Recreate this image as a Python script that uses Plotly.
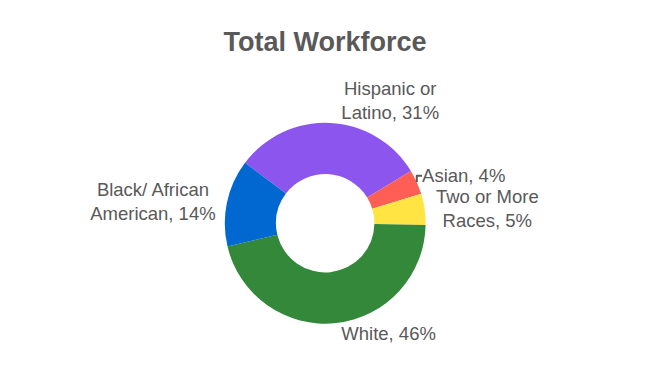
import plotly.graph_objects as go

categories = ["Hispanic or Latino", "Asian", "Two or More Races", "White", "Black/ African American"]
label_text = ["Hispanic or<br>Latino, 31%", "Asian, 4%", "Two or More<br>Races, 5%", "White, 46%", "Black/ African<br>American, 14%"]
values = [31, 4, 5, 46, 14]
colors = ["#8C55EE", "#FF5E54", "#FFE443", "#33883A", "#0068D0"]

fig = go.Figure(go.Pie(
    labels=categories,
    values=values,
    text=label_text,
    textinfo="text",
    textposition="outside",
    hole=0.49,
    sort=False,
    direction="clockwise",
    rotation=-53,
    marker=dict(colors=colors, line=dict(width=0)),
    textfont=dict(family="Liberation Sans, Arial, sans-serif", size=18.5, color="#595959"),
    domain=dict(x=[0.314, 0.662], y=[0.178, 0.701]),
    showlegend=False,
))

fig.update_layout(
    width=650, height=384,
    margin=dict(l=0, r=0, t=0, b=0),
    paper_bgcolor="white",
    title=dict(text="<b>Total Workforce</b>", x=0.4877, xanchor="center", y=0.9115, yanchor="middle",
               font=dict(family="Liberation Sans, Arial, sans-serif", size=27, color="#595959")),
)

fig.write_html("out.html")
